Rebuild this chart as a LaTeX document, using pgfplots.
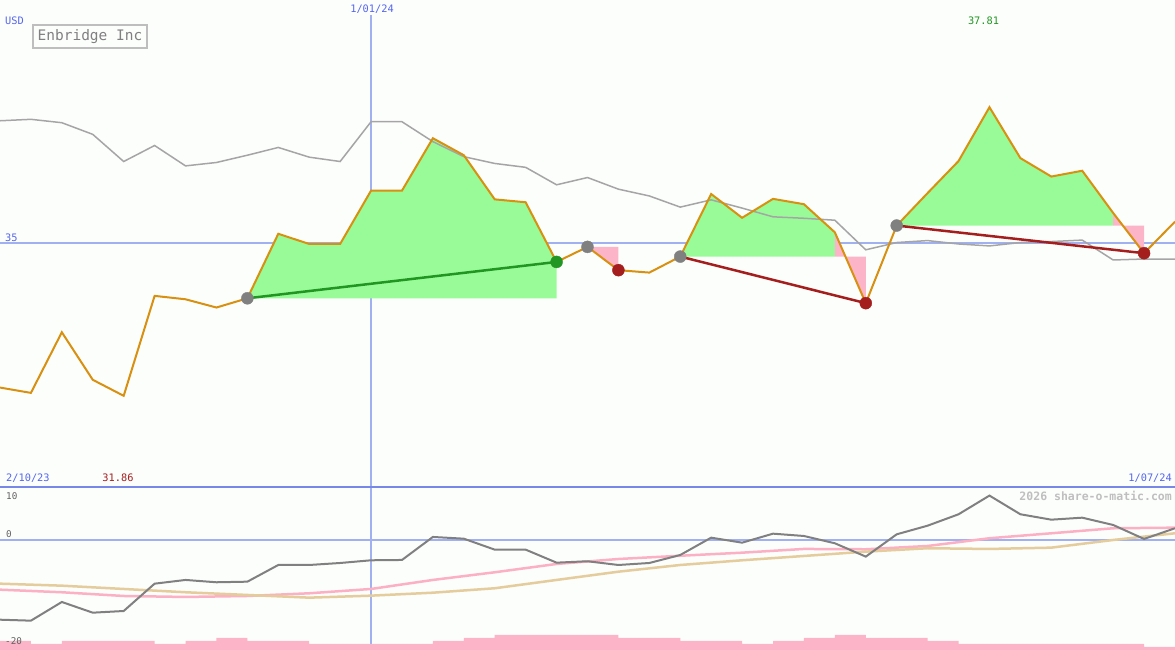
\documentclass[border=0pt]{standalone}
\usepackage{fontspec}
\setmonofont{DejaVu Sans Mono}
\usepackage{pgfplots}
\usepackage{pgfplotstable}
\pgfplotsset{compat=1.18}

\definecolor{bg}{RGB}{252,254,252}
\definecolor{refblue}{RGB}{160,176,240}
\definecolor{divblue}{RGB}{120,136,232}
\definecolor{txtblue}{RGB}{85,102,238}
\definecolor{price}{RGB}{216,144,16}
\definecolor{avg}{RGB}{165,165,165}
\definecolor{upfill}{RGB}{152,251,152}
\definecolor{dnfill}{RGB}{252,180,200}
\definecolor{mom}{RGB}{128,128,128}
\definecolor{mompink}{RGB}{252,176,196}
\definecolor{momtan}{RGB}{228,204,156}
\definecolor{upline}{RGB}{34,150,34}
\definecolor{dnline}{RGB}{165,30,30}
\definecolor{boxgray}{RGB}{190,190,190}

% weekly close and the grey average line
\pgfplotstableread{
i price avg
0  32.03 37.53
1  31.92 37.56
2  33.17 37.49
3  32.19 37.25
4  31.86 36.69
5  33.92 37.02
6  33.85 36.60
7  33.68 36.67
8  33.87 36.82
9  35.20 36.98
10 34.99 36.78
11 34.99 36.69
12 36.09 37.51
13 36.09 37.51
14 37.17 37.10
15 36.82 36.79
16 35.91 36.65
17 35.85 36.57
18 34.62 36.21
19 34.93 36.36
20 34.45 36.12
21 34.40 35.98
22 34.73 35.75
23 36.02 35.90
24 35.53 35.73
25 35.92 35.55
26 35.81 35.52
27 35.23 35.48
28 33.77 34.87
29 35.37 35.02
30 36.04 35.06
31 36.70 34.99
32 37.81 34.95
33 36.76 35.02
34 36.38 35.04
35 36.50 35.07
36 35.63 34.66
37 34.80 34.68
38 35.45 34.68
}\pricetab

% lower panel: momentum
\pgfplotstableread{
i mom
0  -14.67
1  -14.85
2  -11.39
3  -13.37
4  -13.06
5  -8.00
6  -7.31
7  -7.74
8  -7.63
9  -4.54
10 -4.54
11 -4.17
12 -3.67
13 -3.61
14 0.65
15 0.33
16 -1.70
17 -1.70
18 -4.11
19 -3.85
20 -4.54
21 -4.17
22 -2.69
23 0.52
24 -0.41
25 1.26
26 0.83
27 -0.52
28 -2.99
29 1.14
30 2.74
31 4.85
32 8.31
33 4.85
34 3.85
35 4.22
36 2.87
37 0.28
38 2.26
}\momtab

% lower panel: the two slow lines
\pgfplotstableread{
i pink tan
0  -9.11 -8.00
2  -9.59 -8.37
4  -10.28 -8.98
6  -10.46 -9.59
8  -10.28 -10.09
10 -9.78 -10.59
12 -8.98 -10.22
14 -7.31 -9.67
16 -5.89 -8.85
18 -4.35 -7.31
20 -3.43 -5.78
22 -2.83 -4.54
24 -2.26 -3.67
26 -1.57 -2.87
28 -1.63 -2.07
30 -1.02 -1.44
32 0.41 -1.57
34 1.33 -1.33
36 2.26 0.09
38 2.37 1.33
}\slowtab

\begin{document}
\begin{tikzpicture}
\useasboundingbox (0,0) rectangle (1175pt,650pt);
\fill[bg] (0,0) rectangle (1175pt,650pt);

% ---------- lower panel ----------
\begin{axis}[
    at={(0,0)}, anchor=south west,
    width=1175pt, height=163pt, scale only axis,
    xmin=0, xmax=38, ymin=-20.28, ymax=9.9,
    hide axis,
]
\addplot[refblue, line width=2pt] coordinates {(0,0) (38,0)};
\addplot[refblue, line width=1.5pt] coordinates {(12,-20.28) (12,9.9)};
\addplot[mompink, line width=2.5pt] table[x=i, y=pink] {\slowtab};
\addplot[momtan, line width=2.5pt] table[x=i, y=tan] {\slowtab};
\addplot[mom, line width=2pt] table[x=i, y=mom] {\momtab};
% volume-like blocks along the bottom
\addplot[fill=dnfill, draw=none] coordinates {
    (0,-20.5) (0,-18.58) (1,-18.58) (1,-19.13) (2,-19.13) (2,-18.58)
    (5,-18.58) (5,-19.13) (6,-19.13) (6,-18.58) (7,-18.58) (7,-18.02)
    (8,-18.02) (8,-18.58) (10,-18.58) (10,-19.13) (14,-19.13) (14,-18.58)
    (15,-18.58) (15,-18.02) (16,-18.02) (16,-17.47) (20,-17.47) (20,-18.02)
    (22,-18.02) (22,-18.58) (24,-18.58) (24,-19.13) (25,-19.13) (25,-18.58)
    (26,-18.58) (26,-18.02) (27,-18.02) (27,-17.47) (28,-17.47) (28,-18.02)
    (30,-18.02) (30,-18.58) (31,-18.58) (31,-19.13) (37,-19.13) (37,-19.69)
    (38,-19.69) (38,-20.5)};
\end{axis}

% ---------- upper panel ----------
\begin{axis}[
    at={(0,163pt)}, anchor=south west,
    width=1175pt, height=487pt, scale only axis,
    xmin=0, xmax=38, ymin=29.98, ymax=40.02,
    hide axis,
]
\addplot[refblue, line width=2pt] coordinates {(0,35) (38,35)};
\addplot[refblue, line width=1.5pt] coordinates {(12,29.98) (12,39.71)};

% rising / falling stretches
\addplot[fill=upfill, draw=none] coordinates {
    (8,33.87) (9,35.20) (10,34.99) (11,34.99) (12,36.09) (13,36.09)
    (14,37.17) (15,36.82) (16,35.91) (17,35.85) (18,34.62) (18,33.87)};
\addplot[fill=dnfill, draw=none] coordinates {(19,34.93) (20,34.45) (20,34.93)};
\addplot[fill=upfill, draw=none] coordinates {
    (22,34.73) (23,36.02) (24,35.53) (25,35.92) (26,35.81) (27,35.23) (27,34.73)};
\addplot[fill=dnfill, draw=none] coordinates {(27,35.23) (28,33.77) (28,34.73) (27,34.73)};
\addplot[fill=upfill, draw=none] coordinates {
    (29,35.37) (30,36.04) (31,36.70) (32,37.81) (33,36.76) (34,36.38)
    (35,36.50) (36,35.63) (36,35.37)};
\addplot[fill=dnfill, draw=none] coordinates {(36,35.63) (37,34.80) (37,35.37) (36,35.37)};

\addplot[avg, line width=1.5pt] table[x=i, y=avg] {\pricetab};

\addplot[upline, line width=2.5pt] coordinates {(8,33.87) (18,34.62)};
\addplot[dnline, line width=2.5pt] coordinates {(22,34.73) (28,33.77)};
\addplot[dnline, line width=2.5pt] coordinates {(29,35.37) (37,34.80)};

\addplot[only marks, mark=*, mark size=6pt, mom, mark options={draw=none}]
    coordinates {(8,33.87) (19,34.93) (22,34.73) (29,35.37)};
\addplot[only marks, mark=*, mark size=6pt, upline, mark options={draw=none}]
    coordinates {(18,34.62)};
\addplot[only marks, mark=*, mark size=6pt, dnline, mark options={draw=none}]
    coordinates {(20,34.45) (28,33.77) (37,34.80)};

\addplot[price, line width=2pt] table[x=i, y=price] {\pricetab};
\end{axis}

\draw[divblue, line width=2pt] (0,163pt) -- (1175pt,163pt);

% labels
\tikzset{lbl/.style={inner sep=0pt, font=\ttfamily\fontsize{10.3}{12}\selectfont}}
\node[lbl, txtblue, anchor=west] at (5pt,629pt) {USD};
\node[lbl, txtblue] at (372pt,641pt) {1/01/24};
\node[lbl, upline] at (983.5pt,629pt) {37.81};
\node[lbl, txtblue, anchor=west] at (5pt,412pt) {35};
\node[lbl, txtblue, anchor=west] at (6pt,172pt) {2/10/23};
\node[lbl, dnline] at (118pt,172pt) {31.86};
\node[lbl, txtblue, anchor=east] at (1172pt,172pt) {1/07/24};
\node[lbl, black!62, anchor=west, font=\ttfamily\fontsize{9.3}{11}\selectfont] at (6pt,154pt) {10};
\node[lbl, black!62, anchor=west, font=\ttfamily\fontsize{9.3}{11}\selectfont] at (6pt,116pt) {0};
\node[lbl, black!62, anchor=west, font=\ttfamily\fontsize{9.3}{11}\selectfont] at (5pt,9pt) {-20};
\node[lbl, black!25, anchor=east, font=\ttfamily\bfseries\fontsize{11.5}{13}\selectfont] at (1172pt,154pt) {2026 share-o-matic.com};

\draw[boxgray, line width=2pt] (33pt,602pt) rectangle (147pt,625pt);
\node[lbl, black!50, font=\ttfamily\fontsize{14.5}{16}\selectfont] at (90pt,613.5pt) {Enbridge Inc};
\end{tikzpicture}
\end{document}
